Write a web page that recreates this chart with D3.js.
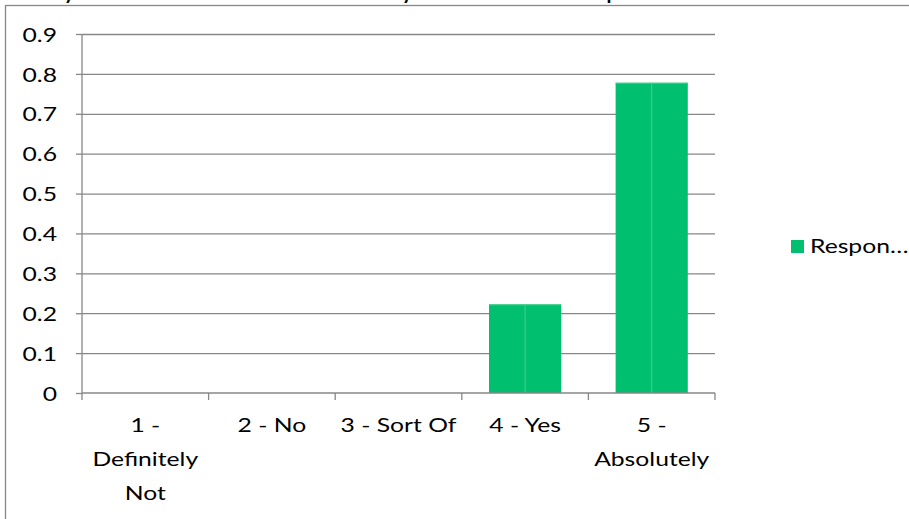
<!DOCTYPE html>
<html><head><meta charset="utf-8">
<script src="https://cdn.jsdelivr.net/npm/d3@7"></script>
<style>body{margin:0;background:#fff;overflow:hidden}svg{display:block}</style>
</head><body>
<svg id="chart" width="909" height="519"></svg>
<script>
// title is cut off by the top edge of the picture; only three descenders show
const titleParts = ["Would ", "you recommend this course to facult", "y members? Please ex", "plain."];
const categories = ["1 - Definitely Not", "2 - No", "3 - Sort Of", "4 - Yes", "5 - Absolutely"];
const categoryLines = [["1 -", "Definitely", "Not"], ["2 - No"], ["3 - Sort Of"], ["4 - Yes"], ["5 -", "Absolutely"]];
const responses = [0, 0, 0, 2/9, 7/9];
const yTicks = [0, 0.1, 0.2, 0.3, 0.4, 0.5, 0.6, 0.7, 0.8, 0.9];
const seriesName = "Respon…";

const svg = d3.select("#chart");
const font = "Lato, 'Open Sans', sans-serif";
const fs = 19;
const stretch = 1.3;
const gridColor = "#878787";
const barColor = "#00bf6f";
const seamColor = "#45cf8f";

const plot = {left: 82, right: 715, top: 34, bottom: 393};

// title
const title = svg.append("text").attr("y", -1)
  .attr("font-family", font).attr("font-weight", "bold").attr("font-size", 20).attr("fill", "#000");
title.append("tspan").attr("x", 64).attr("text-anchor", "end").text(titleParts[0]);
title.append("tspan").attr("x", 64).attr("textLength", 338).attr("lengthAdjust", "spacing").text(titleParts[1]);
title.append("tspan").attr("x", 402).attr("textLength", 204).attr("lengthAdjust", "spacing").text(titleParts[2]);
title.append("tspan").text(titleParts[3]);

// chart border
svg.append("rect").attr("x", 5.5).attr("y", 5.5).attr("width", 1000).attr("height", 700)
  .attr("fill", "none").attr("stroke", gridColor).attr("stroke-width", 1.3);

const x = d3.scaleBand().domain(categories).range([plot.left, plot.right]).padding(0);
const y = d3.scaleLinear().domain([0, 0.9]).range([plot.bottom, plot.top]);

// gridlines
svg.append("g").attr("transform", `translate(${plot.left},0)`)
  .call(d3.axisLeft(y).tickValues(yTicks.filter(d => d > 0)).tickSize(-(plot.right - plot.left)).tickFormat(""))
  .call(g => g.select(".domain").remove())
  .call(g => g.selectAll("line").attr("stroke", gridColor).attr("stroke-width", 1.3));

// y axis
const yAxis = svg.append("g").attr("transform", `translate(${plot.left},0)`)
  .call(d3.axisLeft(y).tickValues(yTicks).tickSize(6)
    .tickFormat(d => d === 0 ? "0" : d3.format(".1f")(d)));
yAxis.select(".domain").attr("stroke", gridColor).attr("stroke-width", 1.3).attr("d", `M0,${plot.top}V${plot.bottom}`);
yAxis.selectAll("line").attr("stroke", gridColor).attr("stroke-width", 1.3);
yAxis.selectAll("text").attr("x", 0).attr("dy", "0.38em")
  .attr("transform", `translate(-25,0) scale(${stretch},1)`)
  .attr("font-family", font).attr("font-size", fs).attr("fill", "#000");

// bars
const barFrac = 0.57;
const bw = x.bandwidth() * barFrac;
const bars = svg.append("g");
categories.forEach((c, i) => {
  const v = responses[i];
  if (v <= 0) return;
  const bx = x(c) + (x.bandwidth() - bw) / 2;
  bars.append("rect").attr("x", bx).attr("y", y(v)).attr("width", bw).attr("height", y(0) - y(v))
    .attr("fill", barColor);
  bars.append("line").attr("x1", bx + bw / 2).attr("x2", bx + bw / 2).attr("y1", y(v)).attr("y2", y(0))
    .attr("stroke", seamColor).attr("stroke-width", 1);
  bars.append("line").attr("x1", bx).attr("x2", bx + bw).attr("y1", y(v) + 0.5).attr("y2", y(v) + 0.5)
    .attr("stroke", seamColor).attr("stroke-width", 1);
});

// x axis
const xAxisG = svg.append("g").attr("transform", `translate(0,${plot.bottom})`);
xAxisG.append("line").attr("x1", plot.left).attr("x2", plot.right).attr("y1", 0).attr("y2", 0)
  .attr("stroke", gridColor).attr("stroke-width", 1.3);
const bounds = categories.map(c => x(c)).concat([x(categories[categories.length - 1]) + x.bandwidth()]);
xAxisG.selectAll("line.tick").data(bounds).enter().append("line").attr("class", "tick")
  .attr("x1", d => d).attr("x2", d => d).attr("y1", 0).attr("y2", 7)
  .attr("stroke", gridColor).attr("stroke-width", 1.3);
categories.forEach((c, i) => {
  const cx = x(c) + x.bandwidth() / 2;
  categoryLines[i].forEach((ln, j) => {
    xAxisG.append("text").attr("text-anchor", "middle")
      .attr("transform", `translate(${cx},${39 + j * 34}) scale(${stretch},1)`)
      .attr("font-family", font).attr("font-size", fs).attr("fill", "#000").text(ln);
  });
});

// legend
svg.append("rect").attr("x", 791).attr("y", 240).attr("width", 13).attr("height", 13).attr("fill", barColor);
svg.append("text").attr("transform", `translate(810,253) scale(${stretch},1)`)
  .attr("font-family", font).attr("font-size", fs).attr("fill", "#000").text(seriesName);
</script>
</body></html>
